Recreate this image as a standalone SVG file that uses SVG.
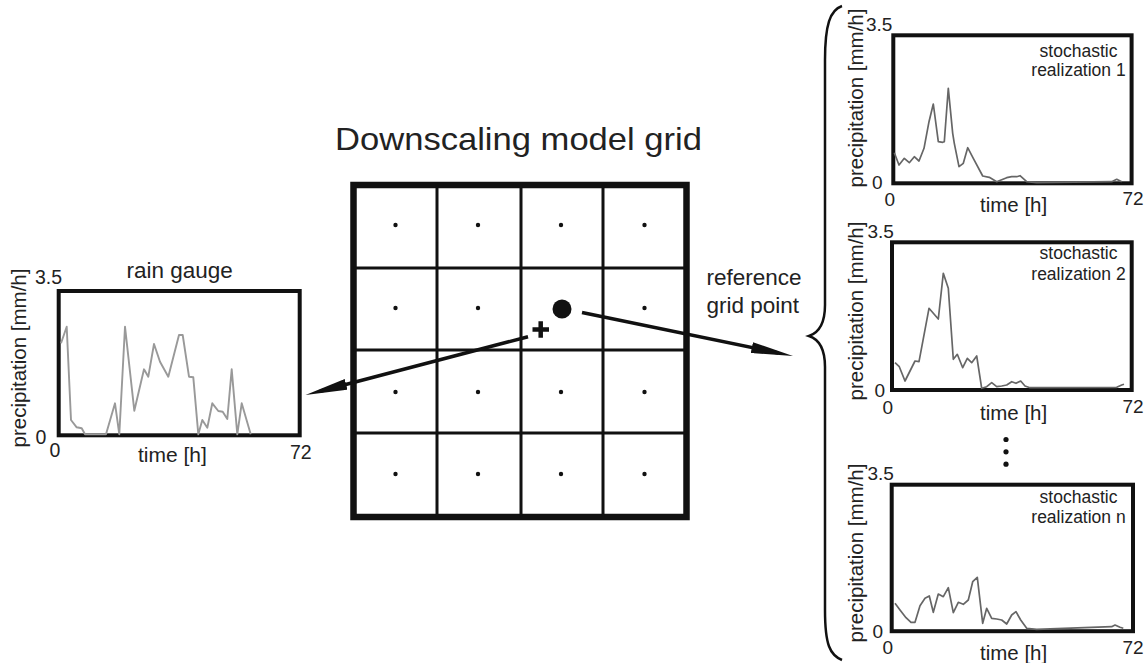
<svg xmlns="http://www.w3.org/2000/svg" width="1148" height="663" viewBox="0 0 1148 663">
  <defs>
    <style>
      text { font-family: "Liberation Sans", Arial, sans-serif; fill: #222; }
      .title { font-size: 32px; }
      .lbl { font-size: 22.5px; }
      .tick { font-size: 19px; }
      .tickL { font-size: 19.5px; }
      .axis { font-size: 20.5px; }
      .ylab { font-size: 20.5px; text-anchor: middle; }
      .real { font-size: 17.5px; text-anchor: middle; }
      .frame { fill: none; stroke: #111; stroke-width: 4; }
      .gridOuter { fill: none; stroke: #111; stroke-width: 6.5; }
      .gridInner { stroke: #111; stroke-width: 3; }
      .series { fill: none; stroke: #666; stroke-width: 1.7; stroke-linejoin: round; }
      .seriesL { fill: none; stroke: #999; stroke-width: 1.9; stroke-linejoin: round; }
      .conn { fill: none; stroke: #111; stroke-width: 3.5; }
    </style>
    <marker id="head" viewBox="0 0 42 11" refX="27" refY="5.5" markerWidth="42" markerHeight="11" markerUnits="userSpaceOnUse" orient="auto">
      <path d="M0,0 L42,5.5 L0,11 z" fill="#111"/>
    </marker>
  </defs>

  <rect width="1148" height="663" fill="#fff"/>

  <!-- title -->
  <text class="title" x="335" y="150" textLength="367" lengthAdjust="spacingAndGlyphs">Downscaling model grid</text>

  <!-- model grid -->
  <g id="model-grid">
    <rect class="gridOuter" x="353.5" y="185" width="333" height="332"/>
    <line class="gridInner" x1="437" y1="185" x2="437" y2="517"/>
    <line class="gridInner" x1="521" y1="185" x2="521" y2="517"/>
    <line class="gridInner" x1="603" y1="185" x2="603" y2="517"/>
    <line class="gridInner" x1="353.5" y1="268" x2="686.5" y2="268"/>
    <line class="gridInner" x1="353.5" y1="350" x2="686.5" y2="350"/>
    <line class="gridInner" x1="353.5" y1="433" x2="686.5" y2="433"/>
    <g fill="#111">
      <circle cx="395.5" cy="225" r="2.2"/><circle cx="478" cy="225" r="2.2"/><circle cx="561" cy="225" r="2.2"/><circle cx="644.5" cy="225" r="2.2"/>
      <circle cx="395.5" cy="308" r="2.2"/><circle cx="478" cy="308" r="2.2"/><circle cx="644.5" cy="308" r="2.2"/>
      <circle cx="395.5" cy="392" r="2.2"/><circle cx="478" cy="392" r="2.2"/><circle cx="561" cy="392" r="2.2"/><circle cx="644.5" cy="392" r="2.2"/>
      <circle cx="395.5" cy="474" r="2.2"/><circle cx="478" cy="474" r="2.2"/><circle cx="561" cy="474" r="2.2"/><circle cx="644.5" cy="474" r="2.2"/>
    </g>
  </g>

  <!-- reference grid point and rain gauge location -->
  <g id="reference-point">
    <circle cx="562" cy="309" r="9.5" fill="#111"/>
  </g>
  <g id="gauge-location">
    <path d="M532.5,329.5 H549 M540.7,321.3 V337.7" stroke="#111" stroke-width="4.5" fill="none"/>
  </g>

  <text class="lbl" x="706.5" y="285">reference</text>
  <text class="lbl" x="706.5" y="313">grid point</text>

  <!-- connectors -->
  <g id="connectors">
    <path class="conn" d="M528,336.7 L320,391.2" marker-end="url(#head)"/>
    <path class="conn" d="M582,312.5 L778.3,353" marker-end="url(#head)"/>
  </g>

  <!-- rain gauge chart -->
  <g id="rain-gauge">
    <text class="lbl" x="126.5" y="278">rain gauge</text>
    <rect class="frame" x="58.7" y="291" width="241" height="144.3"/>
    <polyline class="seriesL" points="61,343.3 66.7,326.7 71,420 76.7,427.3 81.7,428.3 85,434.3 106,434.3 115,403.3 119.3,434.3 125,326.7 134.3,410.7 144,369.3 148.3,376.7 154,344 160,361.7 168.3,376.7 179,335 182.7,335 189,376.7 193.3,377.3 198.3,434.3 202.3,420 207.3,427.7 212.3,403.3 218.3,411 222.7,411.7 227.3,419 231.7,369.3 237.3,434.3 241.7,403.3 250.7,434.3"/>
    <text class="tickL" x="35" y="283.5">3.5</text>
    <text class="tickL" x="35.5" y="443.5">0</text>
    <text class="tickL" x="49.5" y="457">0</text>
    <text class="tickL" x="290" y="458.5">72</text>
    <text x="138" y="461.7" style="font-size:21px">time [h]</text>
    <text class="ylab" transform="translate(26,358) rotate(-90)">precipitation [mm/h]</text>
  </g>

  <!-- brace grouping the realizations -->
  <path d="M842,6 C830,10 825,25 825,60 L825,305 C825,325 818,333 809,336 C818,339 825,347 825,367 L825,610 C825,645 830,655 842,660" fill="none" stroke="#111" stroke-width="2.5"/>

  <!-- stochastic realization 1 -->
  <g id="realization-1">
    <rect class="frame" x="893.3" y="35.3" width="238.3" height="148"/>
    <polyline class="series" points="894.3,152.7 899,165 904.3,158.3 909.3,162.7 914.3,156.7 919,161 924,148.3 929,121.7 933.3,104 938.3,141.7 942.7,142.3 944.3,141.7 948.3,88.3 952.7,133.3 954.3,143.3 959,166.7 963.3,163.3 967.7,147.7 973.3,158.3 982.7,176 989.3,177.3 996.7,181.7 1006.7,177.7 1011.7,176.7 1016.7,176.7 1020,175.7 1026.7,181.7 1036.7,182.7 1111.7,181.7 1116.7,179.3 1121.7,181.7"/>
    <text class="real" x="1078.5" y="56.7">stochastic</text>
    <text class="real" x="1078.5" y="76">realization 1</text>
    <text class="tick" x="866" y="30.5">3.5</text>
    <text class="tick" x="872" y="188.5">0</text>
    <text class="tick" x="884.5" y="205.5">0</text>
    <text class="tick" x="1122.5" y="204.5">72</text>
    <text class="axis" x="980" y="211.7">time [h]</text>
    <text class="ylab" transform="translate(863,98) rotate(-90)">precipitation [mm/h]</text>
  </g>

  <!-- stochastic realization 2 -->
  <g id="realization-2">
    <rect class="frame" x="892" y="242.3" width="239.7" height="147.7"/>
    <polyline class="series" points="895,362.7 899.3,366.7 905,381 915,361 919,361.7 929,308.3 938.3,319 943.3,273.3 948.3,288.3 953.3,359.3 957.3,354.3 962.7,367.7 967.3,358.3 971.7,362.7 976.7,356 981.7,388.3 986.7,386.7 991.7,382.7 996.7,386.7 1001.7,386 1006.7,385 1011.7,381.7 1016,383.3 1020.7,381 1025,386 1030,387.7 1036.7,387.7 1116.7,387.3 1121.7,385 1124,384.3"/>
    <text class="real" x="1078.5" y="259.3">stochastic</text>
    <text class="real" x="1078.5" y="280">realization 2</text>
    <text class="tick" x="867.5" y="237.5">3.5</text>
    <text class="tick" x="874.5" y="397">0</text>
    <text class="tick" x="882.5" y="413.5">0</text>
    <text class="tick" x="1122.5" y="413">72</text>
    <text class="axis" x="980" y="420">time [h]</text>
    <text class="ylab" transform="translate(863,311) rotate(-90)">precipitation [mm/h]</text>
  </g>

  <!-- vertical ellipsis -->
  <g fill="#111">
    <circle cx="1006" cy="439.5" r="2.6"/>
    <circle cx="1006" cy="451.8" r="2.6"/>
    <circle cx="1006" cy="464.2" r="2.6"/>
  </g>

  <!-- stochastic realization n -->
  <g id="realization-n">
    <rect class="frame" x="891.7" y="484.7" width="241.3" height="146.5"/>
    <polyline class="series" points="895,603.3 900,610 906,617.7 911,622.3 915,622.3 920,605.7 925,598.3 929.3,596 933.3,612.3 938.3,594 943.3,596.7 948.3,587.7 953.3,612.7 958.3,602.3 963.3,604.3 968.3,600 972.7,581.7 977.3,577.3 982.7,623.3 986.7,608.3 991.7,618.3 996.7,619 1001.7,620 1006.7,624 1011.7,615 1016,611.7 1020.7,620 1026.7,628.3 1036.7,629.3 1111.7,626.7 1115,625 1120,627.3 1123.3,628.3"/>
    <text class="real" x="1078.5" y="503.3">stochastic</text>
    <text class="real" x="1078.5" y="523.3">realization n</text>
    <text class="tick" x="867.5" y="479.5">3.5</text>
    <text class="tick" x="872.5" y="637.5">0</text>
    <text class="tick" x="882.5" y="653.5">0</text>
    <text class="tick" x="1122.5" y="653.5">72</text>
    <text class="axis" x="980" y="660">time [h]</text>
    <text class="ylab" transform="translate(863,553) rotate(-90)">precipitation [mm/h]</text>
  </g>
</svg>
